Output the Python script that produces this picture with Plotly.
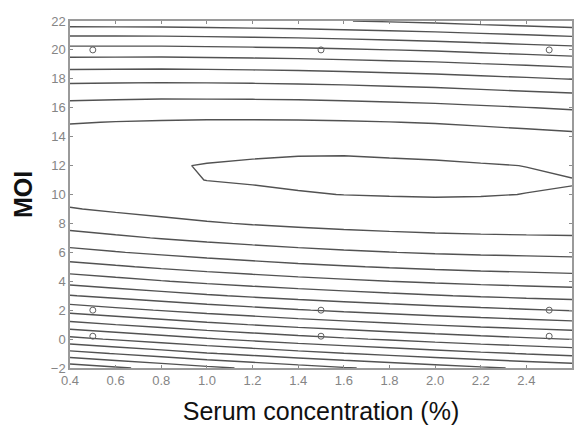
import plotly.graph_objects as go

# Serum concentration grid (%) and MOI grid used for the response surface
serum = [0.4, 0.6, 0.8, 1.0, 1.2, 1.4, 1.6, 1.8, 2.0, 2.2, 2.4, 2.6]
moi = list(range(-2, 23))

# Response values per serum column (rows: MOI -2 ... 22)
resp_04 = [-199.6, -172.6, -147.6, -124.6, -103.6, -84.6, -67.6, -52.6, -39.6, -28.6, -19.6, -12.6, -7.6, -4.6, -3.6, -4.6, -7.6, -12.6, -19.6, -28.6, -39.6, -52.6, -67.6, -84.6, -103.6]
resp_06 = [-193.9, -167.3, -142.6, -120.0, -99.3, -80.7, -64.0, -49.3, -36.6, -25.9, -17.1, -10.4, -5.7, -2.9, -2.1, -3.3, -6.5, -11.7, -18.9, -28.1, -39.2, -52.4, -67.5, -84.6, -103.7]
resp_08 = [-188.3, -162.1, -137.8, -115.6, -95.3, -76.9, -60.6, -46.2, -33.8, -23.4, -15.0, -8.5, -4.0, -1.4, -0.6, -2.3, -5.7, -11.1, -18.4, -27.7, -39.0, -52.3, -67.5, -84.8, -103.9]
resp_10 = [-182.9, -157.0, -133.2, -111.3, -91.3, -73.4, -57.4, -43.3, -31.2, -21.1, -12.9, -6.7, -2.5, 0.1, 0.3, -1.6, -5.2, -10.7, -18.3, -27.8, -39.2, -52.7, -68.0, -85.4, -104.7]
resp_12 = [-178.1, -152.6, -129.1, -107.6, -88.0, -70.3, -54.6, -40.9, -29.1, -19.2, -11.3, -5.4, -1.4, 0.7, 0.9, -1.1, -4.9, -10.7, -18.4, -28.0, -39.6, -53.2, -68.7, -86.1, -105.5]
resp_14 = [-173.4, -148.3, -125.2, -104.0, -84.8, -67.5, -52.1, -38.6, -27.1, -17.6, -10.0, -4.3, -0.5, 1.3, 1.3, -0.7, -4.8, -10.8, -18.6, -28.4, -40.2, -53.8, -69.4, -87.0, -106.4]
resp_16 = [-169.1, -144.5, -121.7, -100.9, -81.9, -65.0, -49.9, -36.8, -25.5, -16.2, -8.9, -3.4, 0.1, 1.7, 1.5, -0.7, -5.1, -11.2, -19.2, -29.1, -41.0, -54.8, -70.5, -88.2, -107.7]
resp_18 = [-165.2, -140.9, -118.5, -98.0, -79.4, -62.7, -48.0, -35.1, -24.2, -15.2, -8.1, -2.9, 0.4, 1.8, 1.3, -1.2, -5.5, -11.8, -20.0, -30.1, -42.1, -56.0, -71.9, -89.6, -109.2]
resp_20 = [-161.4, -137.4, -115.4, -95.3, -77.0, -60.7, -46.2, -33.7, -23.0, -14.3, -7.4, -2.5, 0.6, 1.7, 1.0, -1.6, -6.2, -12.6, -20.9, -31.2, -43.3, -57.3, -73.2, -91.1, -110.8]
resp_22 = [-157.8, -134.2, -112.5, -92.8, -74.9, -58.9, -44.7, -32.5, -22.1, -13.7, -7.1, -2.4, 0.4, 1.4, 0.5, -2.5, -7.2, -13.8, -22.3, -32.7, -45.0, -59.2, -75.2, -93.1, -113.0]
resp_24 = [-154.5, -131.3, -110.0, -90.6, -73.0, -57.3, -43.5, -31.6, -21.5, -13.3, -7.0, -2.5, -0.1, 0.8, -0.1, -3.4, -8.3, -15.1, -23.7, -34.3, -46.6, -60.9, -77.0, -95.1, -114.9]
resp_26 = [-151.4, -128.6, -107.6, -88.5, -71.3, -55.9, -42.4, -30.7, -20.9, -13.0, -6.9, -2.7, -0.3, 0.2, -1.2, -4.4, -9.5, -16.4, -25.2, -35.8, -48.4, -62.7, -79.0, -97.1, -117.0]

# Experimental design points
design_serum = [0.5, 1.5, 2.5, 0.5, 1.5, 2.5, 0.5, 1.5, 2.5]
design_moi = [20, 20, 20, 2, 2, 2, 0.2, 0.2, 0.2]

columns = [resp_04, resp_06, resp_08, resp_10, resp_12, resp_14,
           resp_16, resp_18, resp_20, resp_22, resp_24, resp_26]
z = [list(row) for row in zip(*columns)]

fig = go.Figure()
fig.add_trace(go.Contour(
    x=serum, y=moi, z=z,
    contours=dict(coloring='none', start=-192, end=0, size=12),
    line=dict(color='#525252', width=1.4, smoothing=0),
    showscale=False, hoverinfo='skip'))
fig.add_trace(go.Scatter(
    x=design_serum, y=design_moi, mode='markers',
    marker=dict(symbol='circle-open', size=6, color='#606060', line=dict(width=1)),
    hoverinfo='skip'))

axis_common = dict(
    ticks='inside', ticklen=3, tickcolor='#8c8c8c', tickwidth=1,
    showline=True, linecolor='#9a9a9a', linewidth=1.5, mirror='ticks',
    showgrid=False, zeroline=False,
    tickfont=dict(family='Liberation Sans, Arial, sans-serif', size=13, color='#858585'),
)

fig.update_layout(
    width=567, height=417,
    margin=dict(l=62, r=1, t=13, b=50),
    paper_bgcolor='white', plot_bgcolor='white',
    showlegend=False,
    font=dict(family='Liberation Sans, Arial, sans-serif'),
    xaxis=dict(range=[0.4, 2.6], tick0=0.4, dtick=0.2, tickformat='.1f',
               title=dict(text='Serum concentration (%)',
                          font=dict(size=25, color='#111111'), standoff=18),
               **axis_common),
    yaxis=dict(range=[-2, 22], tick0=-2, dtick=2,
               title=dict(text='<b>MOI</b>', font=dict(size=25, color='#111111'), standoff=11),
               **axis_common),
)

fig.write_html('out.html')
